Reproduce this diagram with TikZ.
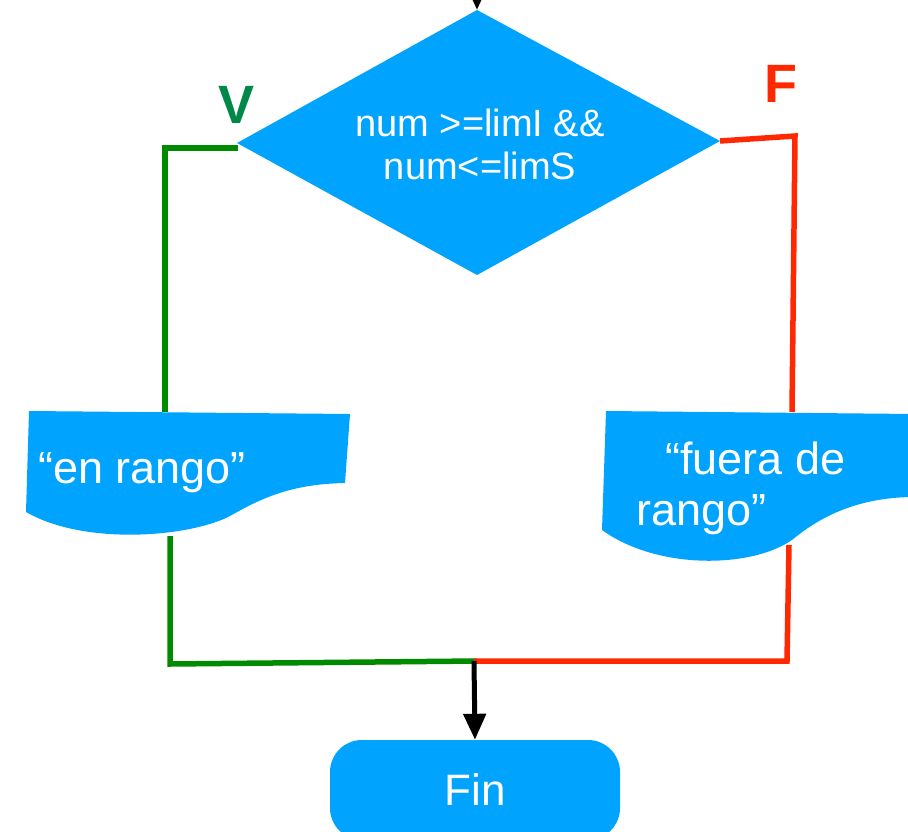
\documentclass[tikz,border=0pt]{standalone}
\usepackage{fontspec}
\setmainfont{Liberation Sans}
\usetikzlibrary{arrows.meta}
\definecolor{fillblue}{RGB}{0,164,255}
\definecolor{vgreen}{RGB}{0,138,0}
\definecolor{vlabel}{RGB}{0,136,72}
\definecolor{fred}{RGB}{255,40,0}
\begin{document}
\begin{tikzpicture}[x=1pt,y=-1pt,
  shapefill/.style={fill=fillblue,draw=none},
  wtext/.style={text=white,inner sep=0pt},
  gline/.style={draw=vgreen,line width=5.5pt},
  rline/.style={draw=fred,line width=5.5pt},
  flow/.style={draw=black,line width=5pt,-{Triangle[width=22pt,length=26pt]}},
  branchlabel/.style={font=\bfseries\fontsize{54}{60}\selectfont,inner sep=0pt}]
\clip (0,0) rectangle (908,832);
\useasboundingbox (0,0) rectangle (908,832);
% key points
\coordinate (top) at (477,-40);
\coordinate (dT) at (477,10);
\coordinate (dL) at (237,143);
\coordinate (dR) at (720,141);
\coordinate (dB) at (477,275);
\coordinate (gA) at (238,148);
\coordinate (gB) at (165,148);
\coordinate (docLtop) at (165,412);
\coordinate (docLbot) at (170,536);
\coordinate (gC) at (170,664);
\coordinate (rB) at (795,136);
\coordinate (docRtop) at (792,412);
\coordinate (docRbot) at (789,545);
\coordinate (rC) at (787,661);
\coordinate (merge) at (474,661);
% connectors
\draw[flow] (top) -- (dT);
\draw[gline] (gA) -- (gB) -- (docLtop);
\draw[gline] (docLbot) -- (gC) -- ([xshift=3pt]merge);
\draw[rline] (dR) -- (rB) -- (docRtop);
\draw[rline] (docRbot) -- (rC) -- (merge);
% decision
\fill[fillblue] (dT) -- (dR) -- (dB) -- (dL) -- cycle;
\node[wtext,align=center,font=\fontsize{38}{43}\selectfont] (cond) at (480,144) {num >=limI \&\&\\num<=limS};
\node[branchlabel,text=vlabel] (vlab) at (237,105) {V};
\node[branchlabel,text=fred] (flab) at (781,84) {F};
% left output
\fill[fillblue] (29,411) -- (350,414) -- (345,483)
  .. controls (290,484) and (260,499) .. (230,516)
  .. controls (190,537) and (85,546) .. (26,512) -- cycle;
\node[wtext,anchor=base west,font=\fontsize{45}{53}\selectfont] (outL) at (38,483) {“en rango”};
% right output
\fill[fillblue] (606,411) -- (915,414) -- (915,497)
  .. controls (862,497) and (825,514) .. (797,536)
  .. controls (760,568) and (660,572) .. (602,530) -- cycle;
\node[wtext,anchor=base west,font=\fontsize{45}{53}\selectfont] (outR1) at (665,474) {“fuera de};
\node[wtext,anchor=base west,font=\fontsize{45}{53}\selectfont] (outR2) at (636,525) {rango”};
% end
\node[shapefill,rounded corners=32pt,minimum width=290pt,minimum height=100pt] (fin) at (475,790) {};
\node[wtext,font=\fontsize{44}{50}\selectfont] (fint) at (fin.center) {Fin};
\draw[flow] (merge) -- (fin.north);
\end{tikzpicture}
\end{document}
